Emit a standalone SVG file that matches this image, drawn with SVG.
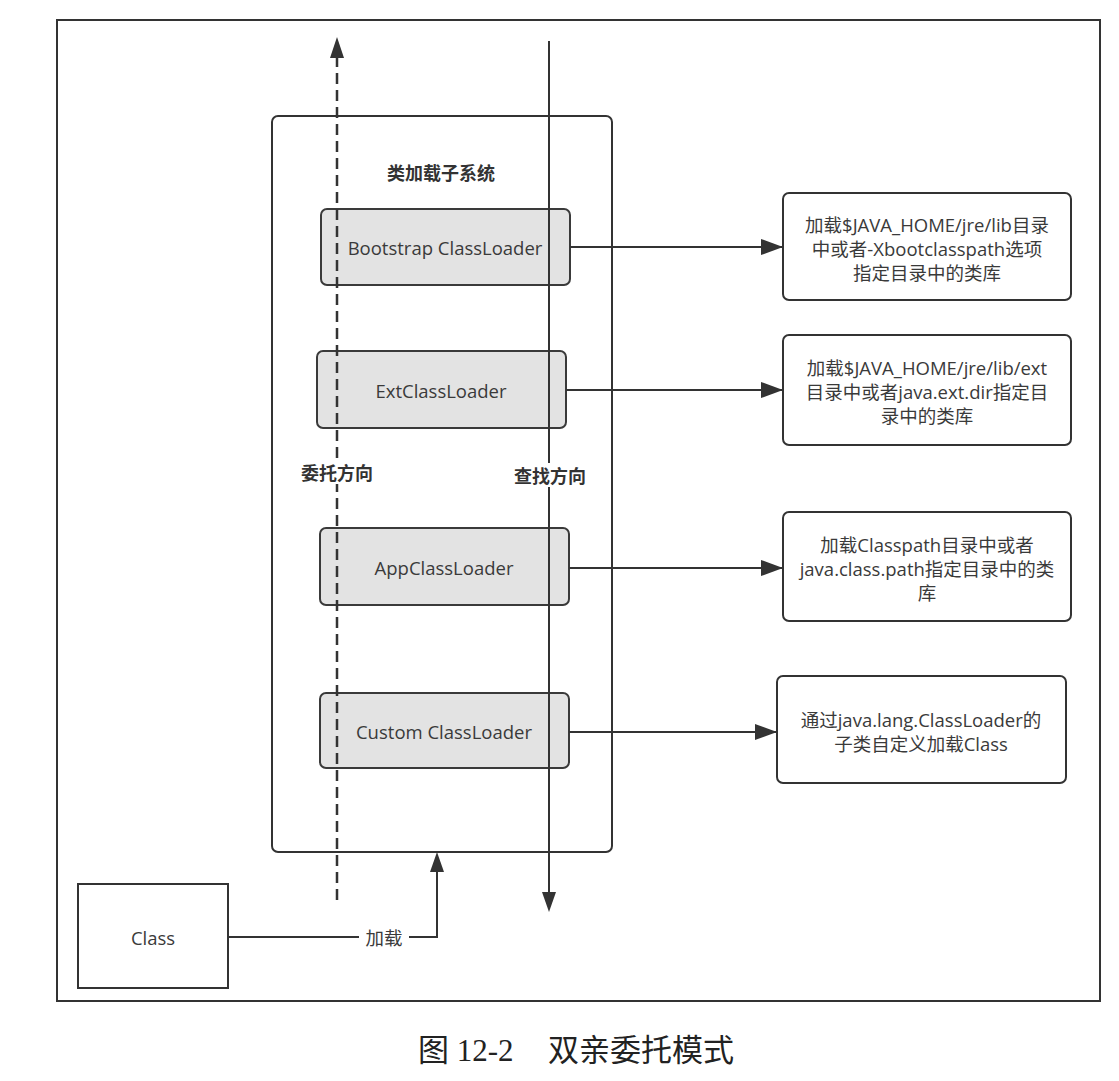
<svg xmlns="http://www.w3.org/2000/svg" width="1119" height="1081" viewBox="0 0 1119 1081">
  <style>
    .frame { fill: none; stroke: #333; stroke-width: 2; }
    .sub { fill: #fff; stroke: #333; stroke-width: 2; }
    .loader { fill: #e3e3e3; stroke: #3a3a3a; stroke-width: 2; }
    .note { fill: #fff; stroke: #333; stroke-width: 2; }
    .t { font-family: "Open Sans", "Noto Sans CJK SC", sans-serif; font-size: 18.5px; fill: #3a3a3a; text-anchor: middle; dominant-baseline: central; }
    .b { font-family: "Noto Sans CJK SC", sans-serif; font-size: 18px; font-weight: bold; fill: #333; text-anchor: middle; dominant-baseline: central; }
    .cap { font-family: "Liberation Serif", "Noto Sans CJK SC", serif; font-size: 31px; fill: #222; dominant-baseline: central; }
    .line { fill: none; stroke: #333; stroke-width: 2; }
    .dash { fill: none; stroke: #333; stroke-width: 2.5; stroke-dasharray: 11 6; }
  </style>
  <defs>
    <marker id="arr" markerUnits="userSpaceOnUse" markerWidth="22" markerHeight="16" refX="22" refY="8" orient="auto">
      <path d="M0,0 L22,8 L0,16 Z" fill="#333"/>
    </marker>
  </defs>

  <rect width="1119" height="1081" fill="#fff"/>

  <!-- outer frame -->
  <rect class="frame" x="57" y="20" width="1043" height="981"/>

  <!-- class loader subsystem -->
  <g id="subsystem">
    <rect class="sub" x="272" y="116" width="340" height="736" rx="6"/>
    <text class="b" x="441" y="172">类加载子系统</text>
  </g>

  <g id="bootstrap">
    <rect class="loader" x="321" y="209" width="249" height="76" rx="6"/>
    <text class="t" x="445" y="247">Bootstrap ClassLoader</text>
  </g>
  <g id="ext">
    <rect class="loader" x="317" y="351" width="249" height="77" rx="6"/>
    <text class="t" x="441" y="390">ExtClassLoader</text>
  </g>
  <g id="app">
    <rect class="loader" x="320" y="528" width="249" height="77" rx="6"/>
    <text class="t" x="444" y="567">AppClassLoader</text>
  </g>
  <g id="custom">
    <rect class="loader" x="320" y="693" width="249" height="75" rx="6"/>
    <text class="t" x="444" y="731">Custom ClassLoader</text>
  </g>

  <!-- descriptions -->
  <g id="note-bootstrap">
    <rect class="note" x="783" y="193" width="288" height="107" rx="6"/>
    <text class="t" x="927" y="224">加载$JAVA_HOME/jre/lib目录</text>
    <text class="t" x="927" y="248">中或者-Xbootclasspath选项</text>
    <text class="t" x="927" y="272">指定目录中的类库</text>
  </g>
  <g id="note-ext">
    <rect class="note" x="783" y="335" width="288" height="110" rx="6"/>
    <text class="t" x="927" y="367">加载$JAVA_HOME/jre/lib/ext</text>
    <text class="t" x="927" y="391">目录中或者java.ext.dir指定目</text>
    <text class="t" x="927" y="415">录中的类库</text>
  </g>
  <g id="note-app">
    <rect class="note" x="783" y="512" width="288" height="109" rx="6"/>
    <text class="t" x="927" y="544">加载Classpath目录中或者</text>
    <text class="t" x="927" y="568">java.class.path指定目录中的类</text>
    <text class="t" x="927" y="592">库</text>
  </g>
  <g id="note-custom">
    <rect class="note" x="777" y="676" width="289" height="107" rx="6"/>
    <text class="t" x="921" y="719">通过java.lang.ClassLoader的</text>
    <text class="t" x="921" y="743">子类自定义加载Class</text>
  </g>

  <g id="class">
    <rect class="frame" x="78" y="884" width="150" height="104"/>
    <text class="t" x="153" y="937">Class</text>
  </g>

  <!-- connectors -->
  <g id="connectors">
    <line class="dash" x1="337" y1="900" x2="337" y2="58"/>
    <path d="M330,58 L337,37 L344,58 Z" fill="#333"/>
    <line class="line" x1="549" y1="41" x2="549" y2="892"/>
    <path d="M542,892 L549,912 L556,892 Z" fill="#333"/>

    <line class="line" x1="570" y1="247" x2="783" y2="247" marker-end="url(#arr)"/>
    <line class="line" x1="566" y1="390" x2="783" y2="390" marker-end="url(#arr)"/>
    <line class="line" x1="569" y1="568" x2="783" y2="568" marker-end="url(#arr)"/>
    <line class="line" x1="569" y1="732" x2="777" y2="732" marker-end="url(#arr)"/>

    <path class="line" d="M228,937 H437 V872"/>
    <path d="M430,872 L437,852 L444,872 Z" fill="#333"/>
    <rect x="359" y="927" width="50" height="20" fill="#fff"/>
    <text class="t" x="384" y="937">加载</text>

    <rect x="296" y="460" width="82" height="24" fill="#fff"/>
    <text class="b" x="337" y="472">委托方向</text>
    <rect x="509" y="463" width="82" height="24" fill="#fff"/>
    <text class="b" x="550" y="475">查找方向</text>
  </g>

  <!-- caption -->
  <text class="cap" x="418" y="1050">图 12-2</text>
  <text class="cap" x="548" y="1050">双亲委托模式</text>
</svg>
